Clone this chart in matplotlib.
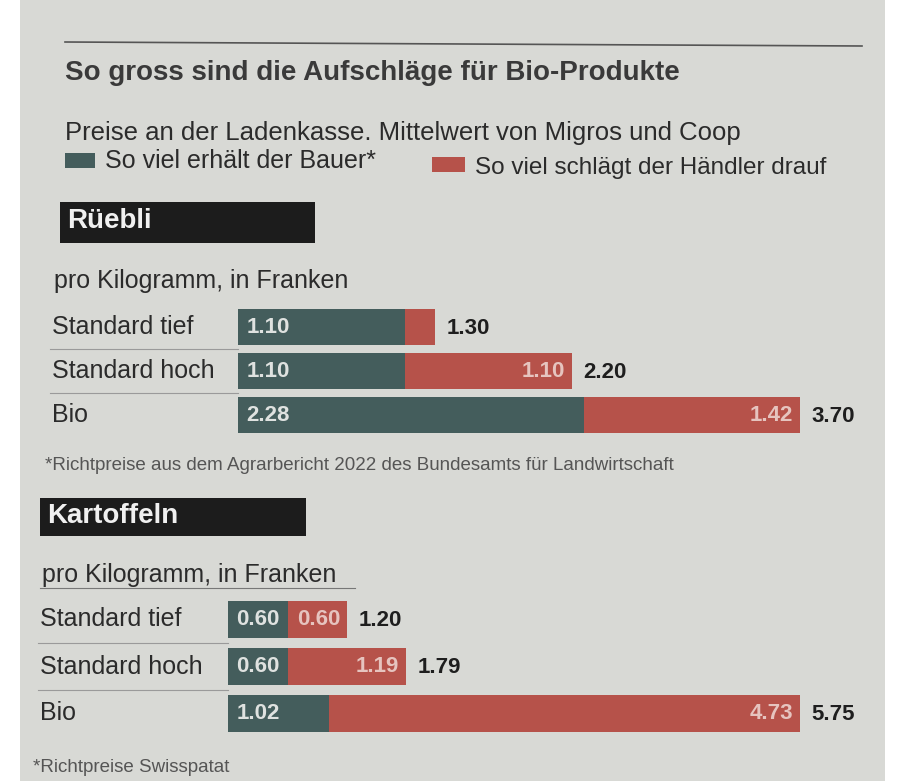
import matplotlib.pyplot as plt
from matplotlib.patches import Rectangle
from matplotlib.transforms import blended_transform_factory

# --- data ---
kategorien = ["Standard tief", "Standard hoch", "Bio"]
rueebli_bauer = [1.10, 1.10, 2.28]
rueebli_haendler = [0.20, 1.10, 1.42]
rueebli_total = [1.30, 2.20, 3.70]
rueebli_h_label = [False, True, True]       # Händler-Wert im Balken zeigen?
kartoffeln_bauer = [0.60, 0.60, 1.02]
kartoffeln_haendler = [0.60, 1.19, 4.73]
kartoffeln_total = [1.20, 1.79, 5.75]
kartoffeln_h_label = [True, True, True]

FARBE_BAUER = "#445d5c"
FARBE_HAENDLER = "#b6524a"
PAPIER = "#d8d9d5"
TEXT = "#2b2b2b"
INNEN = "#dfe2e0"

W, H = 900, 781
FONT = ["Liberation Sans", "DejaVu Sans"]


def fx(x):
    return x / W


def fy(y):
    return 1 - y / H


fig = plt.figure(figsize=(W / 100, H / 100), dpi=100)
fig.patch.set_facecolor("white")
fig.add_artist(Rectangle((fx(20), 0), fx(865), 1, transform=fig.transFigure,
                         facecolor=PAPIER, edgecolor="none", zorder=0))

# Kopf
fig.add_artist(plt.Line2D([fx(65), fx(862)], [fy(42), fy(46)], transform=fig.transFigure,
                          color="#555555", lw=1.2))
fig.text(fx(65), fy(73), "So gross sind die Aufschläge für Bio-Produkte", family=FONT,
         fontsize=20, fontweight="bold", color="#3a3a3a", va="center")
fig.text(fx(65), fy(133), "Preise an der Ladenkasse. Mittelwert von Migros und Coop", family=FONT,
         fontsize=18.5, color=TEXT, va="center")
fig.add_artist(Rectangle((fx(65), fy(168)), fx(30), 15 / H, transform=fig.transFigure,
                         facecolor=FARBE_BAUER, edgecolor="none"))
fig.text(fx(105), fy(161), "So viel erhält der Bauer*", family=FONT, fontsize=18, color=TEXT,
         va="center")
fig.add_artist(Rectangle((fx(432), fy(172)), fx(33), 15 / H, transform=fig.transFigure,
                         facecolor=FARBE_HAENDLER, edgecolor="none"))
fig.text(fx(475), fy(168), "So viel schlägt der Händler drauf", family=FONT, fontsize=17.5,
         color=TEXT, va="center")


def abschnitt(titel, box, unter_y, x_label, bauer, haendler, total, h_label,
              ax_rect, bar_h, fuss, fuss_y):
    bx0, by0, bx1, by1 = box
    fig.add_artist(Rectangle((fx(bx0), fy(by1)), fx(bx1 - bx0), (by1 - by0) / H,
                             transform=fig.transFigure, facecolor="#1c1c1c", edgecolor="none"))
    fig.text(fx(bx0 + 7), fy((by0 + by1) / 2 - 1), titel, family=FONT, fontsize=20,
             fontweight="bold", color="#f0f0f0", va="center")
    fig.text(fx(x_label + 2), fy(unter_y), "pro Kilogramm, in Franken", family=FONT,
             fontsize=18, color=TEXT, va="center")

    ax = fig.add_axes(ax_rect)
    ax.set_facecolor("none")
    y = list(range(len(kategorien)))
    ax.barh(y, bauer, height=bar_h, color=FARBE_BAUER)
    ax.barh(y, haendler, left=bauer, height=bar_h, color=FARBE_HAENDLER)
    xmax = max(total)
    ax.set_xlim(0, xmax)
    ax.set_ylim(len(kategorien) - 0.5, -0.5)
    ax.axis("off")

    tr = blended_transform_factory(fig.transFigure, ax.transData)
    for i, name in enumerate(kategorien):
        ax.text(fx(x_label), i, name, transform=tr, family=FONT, fontsize=18,
                color=TEXT, va="center", ha="left")
        if i > 0:
            ax.plot([fx(x_label - 2), ax_rect[0]], [i - 0.5, i - 0.5], transform=tr,
                    color="#9a9a9a", lw=0.8, clip_on=False)
        ax.annotate(f"{bauer[i]:.2f}", (0, i), xytext=(6, 0), textcoords="offset points",
                    fontsize=16, fontweight="bold", color=INNEN, va="center", ha="left",
                    family=FONT)
        if h_label[i]:
            ax.annotate(f"{haendler[i]:.2f}", (total[i], i), xytext=(-5, 0),
                        textcoords="offset points", fontsize=16, fontweight="bold",
                        color="#e6c4bf", va="center", ha="right", family=FONT)
        ax.annotate(f"{total[i]:.2f}", (total[i], i), xytext=(8, -1),
                    textcoords="offset points", fontsize=16, fontweight="bold",
                    color="#1e1e1e", va="center", ha="left", family=FONT)

    fig.text(fx(x_label - 7), fy(fuss_y), fuss, family=FONT, fontsize=13.5, color="#555555",
             va="center")
    return ax


abschnitt("Rüebli", (60, 202, 315, 243), 281, 52,
          rueebli_bauer, rueebli_haendler, rueebli_total, rueebli_h_label,
          [fx(238), fy(437), fx(800 - 238), 132 / H], 0.84,
          "*Richtpreise aus dem Agrarbericht 2022 des Bundesamts für Landwirtschaft", 466)

abschnitt("Kartoffeln", (40, 498, 306, 536), 575, 40,
          kartoffeln_bauer, kartoffeln_haendler, kartoffeln_total, kartoffeln_h_label,
          [fx(228), fy(737), fx(800 - 228), 141 / H], 0.78,
          "*Richtpreise Swisspatat", 768)

# Unterstrich unter "pro Kilogramm" (Kartoffeln)
fig.add_artist(plt.Line2D([fx(40), fx(355)], [fy(588), fy(588)], transform=fig.transFigure,
                          color="#777777", lw=0.8))

fig.savefig("out.png", dpi=100, facecolor=fig.get_facecolor())
